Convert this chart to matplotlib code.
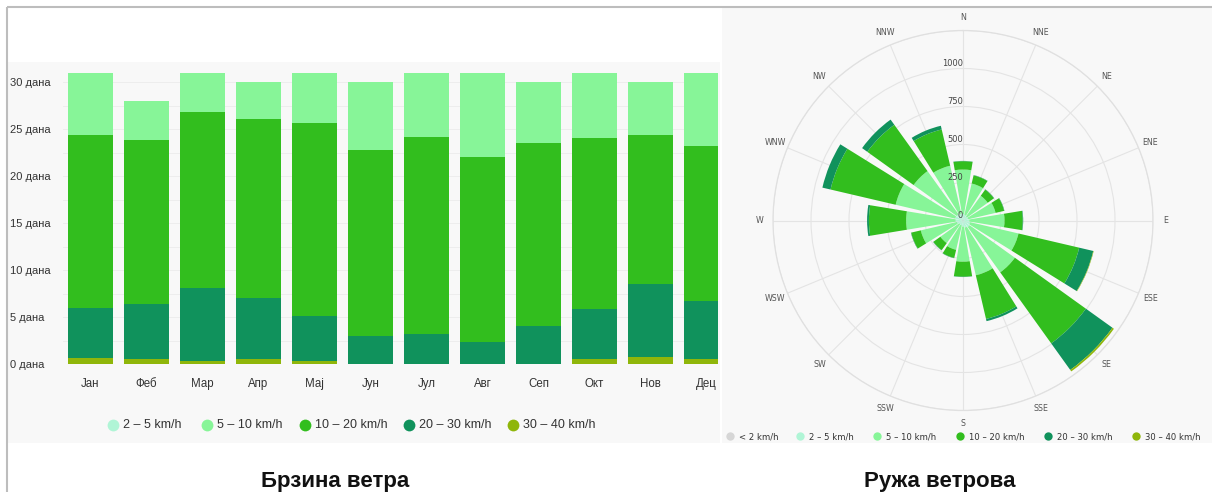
import matplotlib
matplotlib.use('Agg')
import matplotlib.pyplot as plt
import numpy as np
from matplotlib import font_manager
from matplotlib.patches import Rectangle

# ---------------- data ----------------
months = ['Јан', 'Феб', 'Мар', 'Апр', 'Мај', 'Јун', 'Јул', 'Авг', 'Сеп', 'Окт', 'Нов', 'Дец']
bar_labels = ['2 – 5 km/h', '5 – 10 km/h', '10 – 20 km/h', '20 – 30 km/h', '30 – 40 km/h']
days_2_5 = [0, 0, 0, 0, 0, 0, 0, 0, 0, 0, 0, 0]
days_5_10 = [6.6, 4.2, 4.2, 3.9, 5.4, 7.2, 6.9, 8.95, 6.5, 7.0, 5.6, 7.8]
days_10_20 = [18.45, 17.4, 18.75, 19.1, 20.5, 19.8, 20.95, 19.75, 19.5, 18.1, 15.9, 16.5]
days_20_30 = [5.35, 5.9, 7.75, 6.5, 4.8, 3.0, 3.15, 2.3, 4.0, 5.4, 7.8, 6.2]
days_30_40 = [0.6, 0.5, 0.3, 0.5, 0.3, 0, 0, 0, 0, 0.5, 0.7, 0.5]
y_ticks = [0, 5, 10, 15, 20, 25, 30]

directions = ['N', 'NNE', 'NE', 'ENE', 'E', 'ESE', 'SE', 'SSE',
              'S', 'SSW', 'SW', 'WSW', 'W', 'WNW', 'NW', 'NNW']
rose_labels = ['< 2 km/h', '2 – 5 km/h', '5 – 10 km/h', '10 – 20 km/h', '20 – 30 km/h', '30 – 40 km/h']
rose_lt2 = [3, 3, 3, 3, 3, 3, 3, 3, 3, 3, 3, 3, 3, 3, 3, 3]
rose_2_5 = [40, 35, 30, 32, 38, 45, 50, 45, 38, 30, 28, 38, 45, 50, 48, 42]
rose_5_10 = [292, 212, 167, 185, 232, 327, 367, 322, 230, 165, 152, 244, 326, 402, 349, 325]
rose_10_20 = [55, 55, 50, 58, 120, 410, 575, 295, 99, 55, 57, 65, 245, 440, 375, 245]
rose_20_30 = [2, 2, 2, 2, 3, 95, 215, 15, 2, 2, 2, 2, 12, 55, 42, 25]
rose_30_40 = [0, 0, 0, 0, 0, 3, 12, 0, 0, 0, 0, 0, 0, 0, 0, 0]
r_ticks = [0, 250, 500, 750, 1000]

# ---------------- style ----------------
C_LT2 = '#d6d6d6'
C_2_5 = '#b0f5d6'
C_5_10 = '#87f598'
C_10_20 = '#32be1e'
C_20_30 = '#10925c'
C_30_40 = '#8fb60a'

names = {f.name for f in font_manager.fontManager.ttflist}
NARROW = 'Liberation Sans Narrow' if 'Liberation Sans Narrow' in names else 'Liberation Sans'
BOLD = 'Liberation Sans' if 'Liberation Sans' in names else 'DejaVu Sans'

W, H = 1212, 492
fig = plt.figure(figsize=(W / 100, H / 100), dpi=100)
fig.patch.set_facecolor('white')

def fx(px):
    return px / W

def fy(py):
    return 1 - py / H

# background panels
bg = fig.add_axes([0, 0, 1, 1], zorder=-5)
bg.set_xlim(0, W); bg.set_ylim(H, 0); bg.axis('off')
bg.add_patch(Rectangle((8, 62), 712, 381, facecolor='#f8f8f8', edgecolor='none'))
bg.add_patch(Rectangle((722, 8), 490, 435, facecolor='#f8f8f8', edgecolor='none'))

# ---------------- left: stacked bars ----------------
x0_px, x1_px = 62.5, 718
y0_px, ytop_px = 364, 67.9
ax = fig.add_axes([fx(x0_px), fy(y0_px), fx(x1_px - x0_px), (y0_px - ytop_px) / H], zorder=1)
ax.patch.set_alpha(0)
x = np.arange(len(months))
series = [days_30_40, days_20_30, days_10_20, days_5_10, days_2_5]
colors = [C_30_40, C_20_30, C_10_20, C_5_10, C_2_5]
bottom = np.zeros(len(months))
for vals, col in zip(series, colors):
    v = np.array(vals, dtype=float)
    ax.bar(x, v, bottom=bottom, width=0.82, color=col, linewidth=0, zorder=3)
    bottom += v
ax.set_xlim(-0.5, 11.205)
ax.set_ylim(0, 31.5)
ax.set_yticks(y_ticks)
ax.set_yticklabels([f'{v} дана' for v in y_ticks], family=NARROW, fontsize=8.0, color='#333333')
ax.set_xticks(x)
ax.set_xticklabels(months, family=NARROW, fontsize=8.3, color='#333333')
ax.set_yticks(np.arange(0, 31.5, 2.5), minor=True)
ax.yaxis.grid(True, which='both', color='#ebebeb', linewidth=0.6, zorder=0)
ax.set_axisbelow(True)
ax.tick_params(axis='both', which='both', length=0)
ax.tick_params(axis='x', pad=10)
for lab in ax.get_yticklabels():
    lab.set_horizontalalignment('left')
ax.tick_params(axis='y', pad=(x0_px - 10) * 0.72)
for s in ax.spines.values():
    s.set_visible(False)

# ---------------- right: wind rose ----------------
cx, cy, R = 963, 220.5, 190
rmax = 1250
pax = fig.add_axes([fx(cx - R), fy(cy + R), fx(2 * R), 2 * R / H], projection='polar', zorder=1)
pax.patch.set_alpha(0)
pax.set_theta_zero_location('N')
pax.set_theta_direction(-1)
theta = np.deg2rad(np.arange(len(directions)) * 360 / len(directions))
width = 2 * np.pi / len(directions) * 0.83
rseries = [rose_lt2, rose_2_5, rose_5_10, rose_10_20, rose_20_30, rose_30_40]
rcolors = [C_LT2, C_2_5, C_5_10, C_10_20, C_20_30, C_30_40]
rb = np.zeros(len(directions))
for vals, col in zip(rseries, rcolors):
    v = np.array(vals, dtype=float)
    pax.bar(theta, v, bottom=rb, width=width, color=col, linewidth=0, zorder=3)
    rb += v
pax.set_ylim(0, rmax)
pax.set_rgrids([250, 500, 750, 1000, 1250], labels=[''] * 5)
pax.set_thetagrids(np.rad2deg(theta), labels=[''] * len(directions))
pax.grid(True, color='#e4e4e4', linewidth=0.8)
pax.spines['polar'].set_color('#e0e0e0')
pax.spines['polar'].set_linewidth(0.9)
pax.set_axisbelow(True)
pax.tick_params(length=0)
for rv in r_ticks:
    pax.text(0, rv, f'{rv}', ha='right', va='bottom', fontsize=6, color='#444444',
             family='DejaVu Sans', zorder=5)
for th, name in zip(theta, directions):
    pax.text(th, rmax * 203 / R, name, ha='center', va='center', fontsize=5.7,
             color='#555555', family='DejaVu Sans', clip_on=False)

# ---------------- overlay: legends, titles, frame ----------------
ov = fig.add_axes([0, 0, 1, 1], zorder=10)
ov.set_xlim(0, W); ov.set_ylim(H, 0); ov.axis('off'); ov.patch.set_alpha(0)

# frame
ov.plot([7, 7], [7, H], color='#bdbdbd', lw=1.5, solid_capstyle='butt')
ov.plot([7, W], [7, 7], color='#bdbdbd', lw=1.5, solid_capstyle='butt')

# left legend
leg_x = [112.7, 206.7, 305, 409, 512.7]
for lx, lab, col in zip(leg_x, bar_labels, [C_2_5, C_5_10, C_10_20, C_20_30, C_30_40]):
    ov.plot([lx], [425], 'o', ms=8.5, color=col, mec='none')
    ov.text(lx + 10, 425.5, lab, ha='left', va='center', fontsize=9.0, family=NARROW,
            color='#333333')

# right legend
rleg_x = [730, 800, 877, 960, 1048, 1136]
for lx, lab, col in zip(rleg_x, rose_labels, rcolors):
    ov.plot([lx], [436], 'o', ms=6, color=col, mec='none')
    ov.text(lx + 9, 436.5, lab, ha='left', va='center', fontsize=6.1, family='DejaVu Sans',
            color='#333333')

# titles
ov.text(335, 486.5, 'Брзина ветра', ha='center', va='baseline', fontsize=16,
        fontweight='bold', family=BOLD, color='#111111')
ov.text(939.5, 486.5, 'Ружа ветрова', ha='center', va='baseline', fontsize=16,
        fontweight='bold', family=BOLD, color='#111111')

fig.savefig('out.png', dpi=100, facecolor='white')
